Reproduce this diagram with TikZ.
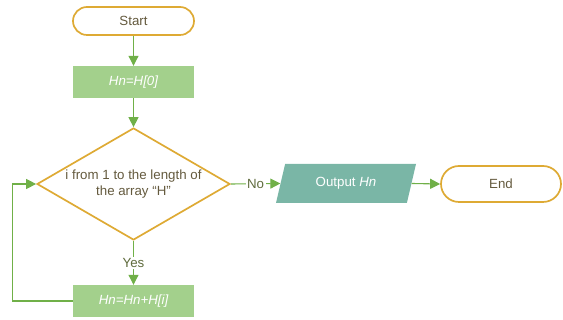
\documentclass[tikz,border=0pt]{standalone}
\usepackage{fontspec}
\setmainfont{Liberation Sans}
\usepackage{tikz}
\usetikzlibrary{arrows.meta}
\usetikzlibrary{shapes.geometric}

\definecolor{gold}{RGB}{222,170,52}
\definecolor{leaf}{RGB}{163,208,140}
\definecolor{arrowgreen}{RGB}{112,176,72}
\definecolor{teal}{RGB}{122,182,166}
\definecolor{inktext}{RGB}{100,90,62}
\definecolor{labeltext}{RGB}{96,108,62}

\begin{document}
\begin{tikzpicture}[x=1pt,y=1pt,font=\fontsize{13.3}{15.5}\selectfont,
  terminal/.style={draw=gold,line width=1.7pt,rounded corners=14pt,fill=white,text=inktext,minimum width=121pt},
  process/.style={fill=leaf,text=white,minimum width=121pt,minimum height=32pt,font=\fontsize{13.3}{15.5}\selectfont\itshape},
  decision/.style={diamond,draw=gold,line width=1.7pt,text=inktext,aspect=1.72,inner sep=0pt,minimum width=193pt,minimum height=112pt,align=center},
  io/.style={trapezium,trapezium left angle=64,trapezium right angle=116,trapezium stretches body,fill=teal,text=white,minimum width=140pt,minimum height=39pt},
  flow/.style={draw=arrowgreen,line width=1.1pt,-{Triangle[length=10pt,width=10pt]}},
  tag/.style={fill=white,text=labeltext,inner sep=1.5pt}]
\useasboundingbox (0,0) rectangle (563,320);
\node[terminal,minimum height=28pt] (start) at (133.5,299) {Start};
\node[process] (init) at (133.5,238) {Hn=H[0]};
\node[decision] (loop) at (133.5,136) {i from 1 to the length of\\the array ``H''};
\node[process] (update) at (133.5,19) {Hn=Hn+H[i]};
\node[io] (out) at (346,136.5) {Output \textit{Hn}};
\node[terminal,minimum width=120pt,minimum height=36pt,rounded corners=18pt] (finish) at (501,136) {End};
\draw[flow] (start) -- (init);
\draw[flow] (init) -- (loop);
\draw[flow] (loop) -- node[tag]{Yes} (update);
\draw[flow] (update.west) -- ++(-60,0) |- (loop.west);
\draw[flow] (loop.east) -- node[tag]{No} (out.west);
\draw[flow] (out.east) -- (finish.west);
\end{tikzpicture}
\end{document}
